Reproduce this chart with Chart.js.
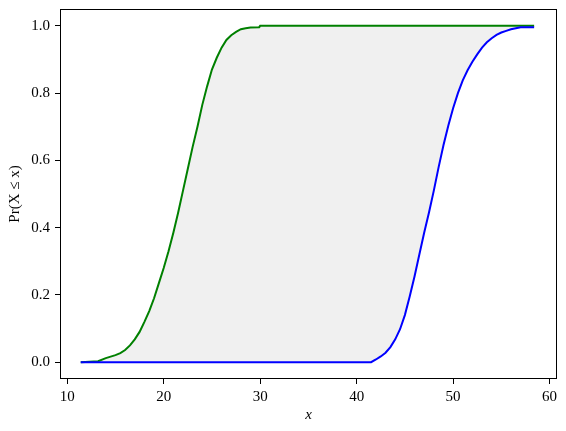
<!DOCTYPE html>
<html>
<head>
<meta charset="utf-8">
<script src="https://cdn.jsdelivr.net/npm/chart.js@4/dist/chart.umd.min.js"></script>
<style>
  html, body { margin: 0; padding: 0; background: #fff; }
  #wrap { width: 566px; height: 431px; }
</style>
</head>
<body>
<div id="wrap"><canvas id="cdf" width="566" height="431"></canvas></div>
<script>
// empirical CDF of the lower sample (green)
const greenX = [11.4, 13.2, 14.0, 15.0, 15.5, 16.0, 16.5, 17.0, 17.5, 18.0, 18.5, 19.0, 19.5, 20.0,
                20.5, 21.0, 21.5, 22.0, 22.5, 23.0, 23.5, 24.0, 24.5, 25.0, 25.5, 26.0, 26.5, 27.0,
                27.5, 28.0, 28.5, 29.0, 29.9, 30.0, 58.4];
const greenY = [0, 0.003, 0.012, 0.021, 0.027, 0.036, 0.05, 0.068, 0.09, 0.12, 0.152, 0.19, 0.235, 0.28,
                0.33, 0.385, 0.445, 0.51, 0.575, 0.64, 0.70, 0.765, 0.82, 0.87, 0.905, 0.935, 0.958, 0.972,
                0.982, 0.99, 0.993, 0.995, 0.996, 1.0, 1.0];

// empirical CDF of the upper sample (blue)
const blueX = [11.4, 41.5, 42.0, 42.5, 43.0, 43.5, 44.0, 44.5, 45.0, 45.5, 46.0, 46.5, 47.0, 47.5,
               48.0, 48.5, 49.0, 49.5, 50.0, 50.5, 51.0, 51.5, 52.0, 52.5, 53.0, 53.5, 54.0, 54.5,
               55.0, 55.5, 56.0, 56.5, 57.0, 58.4];
const blueY = [0, 0, 0.008, 0.017, 0.028, 0.045, 0.068, 0.098, 0.14, 0.195, 0.255, 0.32, 0.385, 0.445,
               0.51, 0.58, 0.645, 0.703, 0.755, 0.80, 0.838, 0.868, 0.893, 0.915, 0.935, 0.951, 0.963, 0.973,
               0.98, 0.985, 0.99, 0.993, 0.996, 0.996];

const xTicks = [10, 20, 30, 40, 50, 60];
const yTicks = [0.0, 0.2, 0.4, 0.6, 0.8, 1.0];

const serif = "'Liberation Serif', 'DejaVu Serif', serif";

function toPoints(xs, ys) {
    return xs.map((x, i) => ({ x: x, y: ys[i] }));
}

// box around the plot area, like matplotlib spines
const frame = {
    id: 'frame',
    afterDatasetsDraw(chart) {
        const a = chart.chartArea;
        const ctx = chart.ctx;
        ctx.save();
        ctx.strokeStyle = '#000';
        ctx.lineWidth = 1;
        ctx.strokeRect(Math.round(a.left) + 0.5, Math.round(a.top) + 0.5,
                       Math.round(a.right - a.left) - 1, Math.round(a.bottom - a.top) - 1);
        ctx.restore();
    }
};

new Chart(document.getElementById('cdf').getContext('2d'), {
    type: 'line',
    data: {
        datasets: [{
            label: 'upper',
            data: toPoints(blueX, blueY),
            borderColor: '#0000ff',
            borderWidth: 2,
            pointRadius: 0,
            fill: false
        }, {
            label: 'lower',
            data: toPoints(greenX, greenY),
            borderColor: '#008000',
            borderWidth: 2,
            pointRadius: 0,
            backgroundColor: '#f0f0f0',
            fill: { target: 0 }
        }]
    },
    options: {
        responsive: false,
        animation: false,
        layout: { padding: { top: 9, right: 9, left: 0, bottom: 0 } },
        plugins: {
            legend: { display: false },
            tooltip: { enabled: false }
        },
        scales: {
            x: {
                type: 'linear',
                min: 9.25,
                max: 60.77,
                afterBuildTicks: scale => { scale.ticks = xTicks.map(v => ({ value: v })); },
                afterFit: scale => {
                    scale.height = 52;
                    scale.paddingLeft = 0;
                    scale.paddingRight = 0;
                },
                ticks: {
                    color: '#000',
                    font: { family: serif, size: 15 },
                    padding: 4,
                    maxRotation: 0,
                    callback: v => String(v)
                },
                grid: { drawOnChartArea: false, tickLength: 5, color: '#000' },
                border: { display: false },
                title: {
                    display: true,
                    text: 'x',
                    color: '#000',
                    font: { family: serif, size: 15, style: 'italic' },
                    padding: { top: 0, bottom: 7 }
                }
            },
            y: {
                type: 'linear',
                min: -0.05,
                max: 1.05,
                afterBuildTicks: scale => { scale.ticks = yTicks.map(v => ({ value: v })); },
                afterFit: scale => {
                    scale.width = 60;
                    scale.paddingTop = 0;
                    scale.paddingBottom = 0;
                },
                ticks: {
                    color: '#000',
                    font: { family: serif, size: 15 },
                    padding: 5,
                    callback: v => Number(v).toFixed(1)
                },
                grid: { drawOnChartArea: false, tickLength: 5, color: '#000' },
                border: { display: false },
                title: {
                    display: true,
                    text: 'Pr(X ≤ x)',
                    color: '#000',
                    font: { family: serif, size: 15 },
                    padding: { top: 6, bottom: 0 }
                }
            }
        }
    },
    plugins: [frame]
});
</script>
</body>
</html>
